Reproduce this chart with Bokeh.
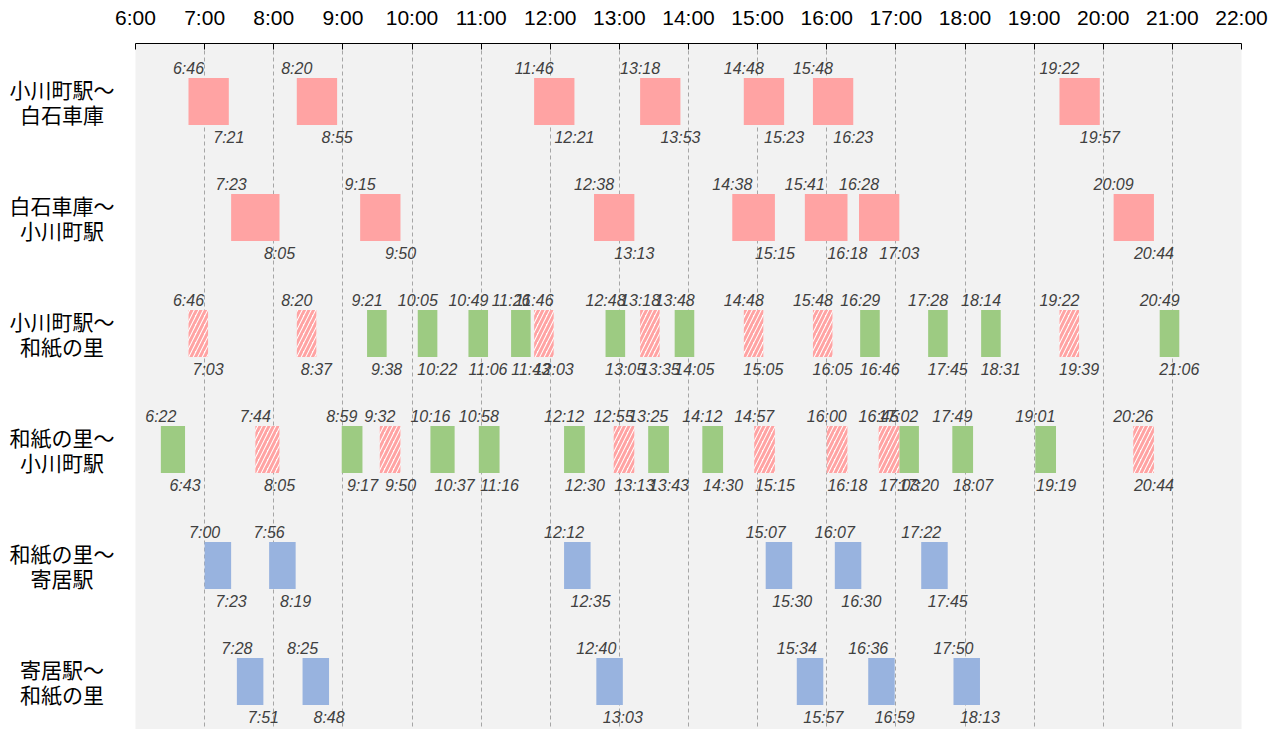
from bokeh.plotting import figure
from bokeh.layouts import row
from bokeh.models import Range1d, FixedTicker, ColumnDataSource
from bokeh.embed import file_html
from bokeh.resources import INLINE
from bokeh.core.properties import value

# ---------------- data ----------------
routes = ["小川町駅〜\n白石車庫", "白石車庫〜\n小川町駅", "小川町駅〜\n和紙の里",
          "和紙の里〜\n小川町駅", "和紙の里〜\n寄居駅", "寄居駅〜\n和紙の里"]

hour_labels = ["6:00", "7:00", "8:00", "9:00", "10:00", "11:00", "12:00", "13:00",
               "14:00", "15:00", "16:00", "17:00", "18:00", "19:00", "20:00",
               "21:00", "22:00"]

# kinds: "pink" solid, "hatch" striped pink, "green", "blue"
r1_dep = ["6:46", "8:20", "11:46", "13:18", "14:48", "15:48", "19:22"]
r1_arr = ["7:21", "8:55", "12:21", "13:53", "15:23", "16:23", "19:57"]
r1_kind = ["pink", "pink", "pink", "pink", "pink", "pink", "pink"]

r2_dep = ["7:23", "9:15", "12:38", "14:38", "15:41", "16:28", "20:09"]
r2_arr = ["8:05", "9:50", "13:13", "15:15", "16:18", "17:03", "20:44"]
r2_kind = ["pink", "pink", "pink", "pink", "pink", "pink", "pink"]

r3_dep = ["6:46", "8:20", "9:21", "10:05", "10:49", "11:26", "11:46", "12:48", "13:18",
          "13:48", "14:48", "15:48", "16:29", "17:28", "18:14", "19:22", "20:49"]
r3_arr = ["7:03", "8:37", "9:38", "10:22", "11:06", "11:43", "12:03", "13:05", "13:35",
          "14:05", "15:05", "16:05", "16:46", "17:45", "18:31", "19:39", "21:06"]
r3_kind = ["hatch", "hatch", "green", "green", "green", "green", "hatch", "green", "hatch",
           "green", "hatch", "hatch", "green", "green", "green", "hatch", "green"]

r4_dep = ["6:22", "7:44", "8:59", "9:32", "10:16", "10:58", "12:12", "12:55", "13:25",
          "14:12", "14:57", "16:00", "16:45", "17:02", "17:49", "19:01", "20:26"]
r4_arr = ["6:43", "8:05", "9:17", "9:50", "10:37", "11:16", "12:30", "13:13", "13:43",
          "14:30", "15:15", "16:18", "17:03", "17:20", "18:07", "19:19", "20:44"]
r4_kind = ["green", "hatch", "green", "hatch", "green", "green", "green", "hatch", "green",
           "green", "hatch", "hatch", "hatch", "green", "green", "green", "hatch"]

r5_dep = ["7:00", "7:56", "12:12", "15:07", "16:07", "17:22"]
r5_arr = ["7:23", "8:19", "12:35", "15:30", "16:30", "17:45"]
r5_kind = ["blue", "blue", "blue", "blue", "blue", "blue"]

r6_dep = ["7:28", "8:25", "12:40", "15:34", "16:36", "17:50"]
r6_arr = ["7:51", "8:48", "13:03", "15:57", "16:59", "18:13"]
r6_kind = ["blue", "blue", "blue", "blue", "blue", "blue"]

# ---------------- build ----------------
def hrs(s):
    h, m = s.split(":")
    return int(h) + int(m) / 60.0

all_rows = [(r1_dep, r1_arr, r1_kind), (r2_dep, r2_arr, r2_kind),
            (r3_dep, r3_arr, r3_kind), (r4_dep, r4_arr, r4_kind),
            (r5_dep, r5_arr, r5_kind), (r6_dep, r6_arr, r6_kind)]

ROW_PX = 116.0
HALF = 23.5 / ROW_PX
TOP_OFF = 33.0 / ROW_PX
BOT_OFF = 36.0 / ROW_PX

bars = {k: dict(left=[], right=[], bottom=[], top=[]) for k in ["pink", "hatch", "green", "blue"]}
labs = dict(x=[], y=[], t=[])
for i, (deps, arrs, kinds) in enumerate(all_rows):
    yc = i + 0.5
    for d, a, k in zip(deps, arrs, kinds):
        bars[k]["left"].append(hrs(d))
        bars[k]["right"].append(hrs(a))
        bars[k]["bottom"].append(yc + HALF)
        bars[k]["top"].append(yc - HALF)
        labs["x"] += [hrs(d), hrs(a)]
        labs["y"] += [yc - TOP_OFF, yc + BOT_OFF]
        labs["t"] += [d, a]

H = 729
TOPB = 43
LEFT_W = 114
MAIN_LB = 21
MAIN_W = 1270 - LEFT_W
frame_h = H - TOPB
hour_ticks = [hrs(s) for s in hour_labels]
row_centers = [i + 0.5 for i in range(len(routes))]

yr = Range1d(frame_h / ROW_PX, 0)

# ---- left panel with route names ----
lp = figure(width=LEFT_W, height=H, output_backend="svg", toolbar_location=None,
            x_range=Range1d(0, LEFT_W), y_range=yr,
            min_border_left=0, min_border_right=0, min_border_top=TOPB,
            min_border_bottom=0)
lp.axis.visible = False
lp.grid.visible = False
lp.outline_line_color = None
lp.background_fill_color = "white"
lp.border_fill_color = "white"
lp.text(x=[61.5] * len(routes), y=row_centers, text=routes,
        text_font=value("Noto Sans CJK JP"), text_font_size="21px",
        text_color="black", text_align="center", text_baseline="middle",
        text_line_height=0.82)

# ---- main timetable ----
p = figure(width=MAIN_W, height=H, output_backend="svg", toolbar_location=None,
           x_range=Range1d(hour_ticks[0], hour_ticks[-1]), y_range=yr,
           x_axis_location="above",
           min_border_left=MAIN_LB, min_border_right=29, min_border_top=TOPB,
           min_border_bottom=0)
p.background_fill_color = "#F2F2F2"
p.border_fill_color = "white"
p.outline_line_color = None

xa = p.xaxis[0]
xa.ticker = FixedTicker(ticks=hour_ticks)
xa.major_label_overrides = {t: s for t, s in zip(hour_ticks, hour_labels)}
xa.major_label_text_font = "Liberation Sans"
xa.major_label_text_font_size = "21px"
xa.major_label_text_color = "black"
xa.major_label_standoff = 15
xa.major_tick_in = 6
xa.major_tick_out = 0
xa.major_tick_line_color = "black"
xa.axis_line_color = "black"
xa.minor_tick_line_color = None

p.yaxis.visible = False

p.xgrid.ticker = FixedTicker(ticks=hour_ticks)
p.xgrid.grid_line_color = "#A6A6A6"
p.xgrid.grid_line_dash = "4 3"
p.xgrid.grid_line_width = 1
p.ygrid.grid_line_color = None

p.quad(source=ColumnDataSource(bars["pink"]), left="left", right="right",
       bottom="bottom", top="top", fill_color="#FFA3A3", line_color=None)
p.quad(source=ColumnDataSource(bars["green"]), left="left", right="right",
       bottom="bottom", top="top", fill_color="#9DCB82", line_color=None)
p.quad(source=ColumnDataSource(bars["blue"]), left="left", right="right",
       bottom="bottom", top="top", fill_color="#98B3DF", line_color=None)
p.quad(source=ColumnDataSource(bars["hatch"]), left="left", right="right",
       bottom="bottom", top="top", fill_color="white", line_color=None,
       hatch_pattern="/", hatch_color="#FFA3A3", hatch_scale=9, hatch_weight=3)

p.text(source=ColumnDataSource(labs), x="x", y="y", text="t",
       text_font=value("Liberation Sans"), text_font_style="italic",
       text_font_size="16px", text_color="#404040",
       text_align="center", text_baseline="middle")

layout = row(lp, p, spacing=0)
open("out.html", "w").write(file_html(layout, INLINE))
